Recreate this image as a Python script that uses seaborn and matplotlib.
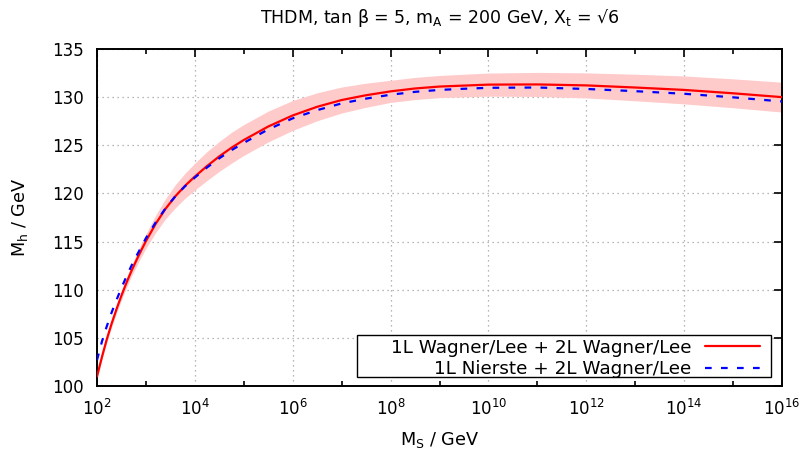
import numpy as np
import pandas as pd
import matplotlib
matplotlib.use("Agg")
import matplotlib.pyplot as plt
from matplotlib.lines import Line2D
from matplotlib.patches import Rectangle
import seaborn as sns

# ---- data ----
log_ms = [2.0, 2.1, 2.2, 2.3, 2.4, 2.5, 2.6, 2.7, 2.8, 2.9, 3.0, 3.2, 3.4,
          3.6, 3.8, 4.0, 4.25, 4.5, 4.75, 5.0, 5.5, 6.0, 6.5, 7.0, 7.5, 8.0,
          8.5, 9.0, 9.5, 10.0, 11.0, 12.0, 13.0, 14.0, 15.0, 16.0]
mh_wagner = [101.0, 103.0, 104.85, 106.5, 108.0, 109.4, 110.7, 111.9, 113.0,
             114.05, 115.05, 116.85, 118.4, 119.7, 120.8, 121.75, 122.85,
             123.85, 124.75, 125.55, 126.95, 128.1, 129.0, 129.7, 130.2, 130.6,
             130.9, 131.1, 131.2, 131.3, 131.32, 131.22, 131.0, 130.75, 130.4,
             130.0]
mh_nierste = [102.7, 104.6, 106.2, 107.65, 108.95, 110.2, 111.35, 112.45,
              113.45, 114.4, 115.35, 117.0, 118.45, 119.7, 120.75, 121.65,
              122.7, 123.65, 124.5, 125.25, 126.65, 127.8, 128.65, 129.35,
              129.85, 130.25, 130.55, 130.75, 130.87, 130.97, 131.0, 130.85,
              130.62, 130.35, 129.98, 129.55]
band_halfwidth = [0.25, 0.3, 0.33, 0.37, 0.4, 0.45, 0.5, 0.55, 0.62, 0.68,
                  0.75, 0.9, 1.05, 1.2, 1.3, 1.4, 1.5, 1.55, 1.6, 1.6, 1.6,
                  1.55, 1.45, 1.35, 1.25, 1.15, 1.15, 1.15, 1.18, 1.2, 1.25,
                  1.3, 1.38, 1.45, 1.5, 1.55]
label_wagner = "1L Wagner/Lee + 2L Wagner/Lee"
label_nierste = "1L Nierste + 2L Wagner/Lee"
xtick_exponents = [2, 4, 6, 8, 10, 12, 14, 16]
xminor_exponents = [3, 5, 7, 9, 11, 13, 15]
yticks = [100, 105, 110, 115, 120, 125, 130, 135]

ms = 10.0 ** np.array(log_ms)
df = pd.DataFrame({
    "MS": np.concatenate([ms, ms]),
    "Mh": np.concatenate([mh_wagner, mh_nierste]),
    "series": [label_wagner] * len(ms) + [label_nierste] * len(ms),
})

sns.set_theme(style="white")
plt.rcParams["font.family"] = ["DejaVu Sans"]
plt.rcParams["mathtext.fontset"] = "dejavusans"
plt.rcParams["text.color"] = "black"
plt.rcParams["axes.labelcolor"] = "black"
plt.rcParams["xtick.color"] = "black"
plt.rcParams["ytick.color"] = "black"

fig = plt.figure(figsize=(8.05, 4.49), dpi=100)
ax = fig.add_axes([97 / 805, 1 - 386 / 449, (782 - 97) / 805, (386 - 49) / 449])

lo = np.array(mh_wagner) - np.array(band_halfwidth)
hi = np.array(mh_wagner) + np.array(band_halfwidth)
ax.fill_between(ms, lo, hi, color="#ffcaca", linewidth=0, zorder=1)

sns.lineplot(data=df, x="MS", y="Mh", hue="series", style="series",
             palette={label_wagner: "#ff0000", label_nierste: "#0000ff"},
             dashes={label_wagner: "", label_nierste: (3, 4.2)},
             linewidth=1.6, ax=ax, zorder=3, legend=False)

ax.set_xscale("log")
ax.set_xlim(1e2, 1e16)
ax.set_ylim(100, 135)

ax.set_xticks([10.0 ** e for e in xtick_exponents])
ax.set_xticklabels([f"$10^{{{e}}}$" for e in xtick_exponents])
ax.set_xticks([10.0 ** e for e in xminor_exponents], minor=True)
ax.set_xticklabels([], minor=True)
ax.set_yticks(yticks)
ax.set_yticklabels([str(v) for v in yticks])

ax.tick_params(axis="both", which="major", direction="in", length=6, width=1.2,
               top=True, right=True, labelsize=12, colors="black", pad=9.5)
ax.tick_params(axis="x", which="minor", direction="in", length=3.5, width=1.2,
               top=True, bottom=True)
ax.yaxis.set_minor_locator(matplotlib.ticker.NullLocator())

ax.grid(True, which="major", color="#a0a0a0", linestyle=(0, (1, 3)), linewidth=0.9)
for sp in ax.spines.values():
    sp.set_color("black")
    sp.set_linewidth(1.4)

ax.set_xlabel(r"M$_{\rm S}$ / GeV", fontsize=12.7, labelpad=8)
ax.set_ylabel(r"M$_{\rm h}$ / GeV", fontsize=12.7, labelpad=16)
ax.set_title(r"THDM, tan β = 5, m$_{\rm A}$ = 200 GeV, X$_{\rm t}$ = √6",
             fontsize=12.5, pad=19)

# legend box (gnuplot style, wide left padding)
box = Rectangle(((357 - 97) / 685, (386 - 377) / 337),
                (771 - 357) / 685, (377 - 335) / 337,
                transform=ax.transAxes, facecolor="white", edgecolor="black",
                linewidth=1.0, zorder=4)
ax.add_patch(box)

handles = [Line2D([], [], color="#ff0000", linewidth=1.6),
           Line2D([], [], color="#0000ff", linewidth=1.6, dashes=(3, 4.2))]
leg = ax.legend(handles, [label_wagner, label_nierste], loc="lower right",
                bbox_to_anchor=((760 - 97) / 685, (386 - 378.5) / 337),
                borderaxespad=0, markerfirst=False, fontsize=13.2,
                handlelength=3.0, handletextpad=0.75, labelspacing=0.2,
                borderpad=0.0, frameon=False)
leg.set_zorder(5)

fig.savefig("out.png", dpi=100)
